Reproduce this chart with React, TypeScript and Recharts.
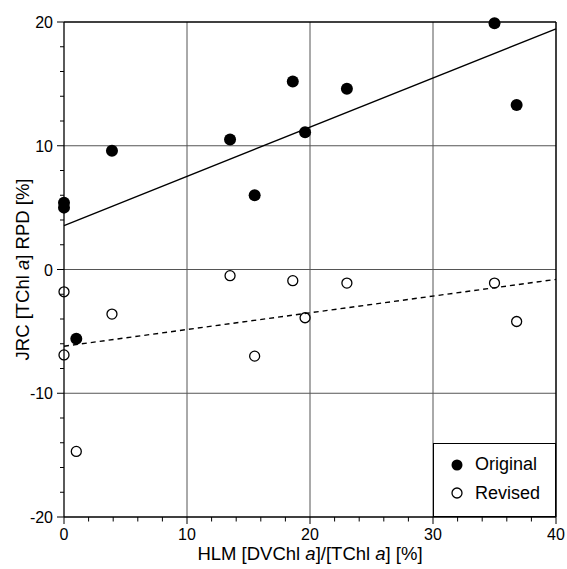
import React from "react";
import { ScatterChart, Scatter, XAxis, YAxis, CartesianGrid, ReferenceLine, Legend } from "recharts";

const xOriginal = [0, 0, 3.9, 13.5, 15.5, 18.6, 19.6, 23.0, 35.0, 36.8, 1.0];
const yOriginal = [5.4, 5.0, 9.6, 10.5, 6.0, 15.2, 11.1, 14.6, 19.9, 13.3, -5.6];

const xRevised = [0, 3.9, 0, 1.0, 13.5, 15.5, 18.6, 19.6, 23.0, 35.0, 36.8];
const yRevised = [-1.8, -3.6, -6.9, -14.7, -0.5, -7.0, -0.9, -3.9, -1.1, -1.1, -4.2];

// regression lines, end points
const fitX = [0, 40];
const fitOriginalY = [3.55, 19.45];
const fitRevisedY = [-6.2, -0.8];

const xTicks = [0, 2, 4, 6, 8, 10, 12, 14, 16, 18, 20, 22, 24, 26, 28, 30, 32, 34, 36, 38, 40];
const yTicks = [-20, -18, -16, -14, -12, -10, -8, -6, -4, -2, 0, 2, 4, 6, 8, 10, 12, 14, 16, 18, 20];
const gridX = [10, 20, 30];
const gridY = [-10, 0, 10];

const original = xOriginal.map((x, i) => ({ x, y: yOriginal[i] }));
const revised = xRevised.map((x, i) => ({ x, y: yRevised[i] }));
const fitOriginal = fitX.map((x, i) => ({ x, y: fitOriginalY[i] }));
const fitRevised = fitX.map((x, i) => ({ x, y: fitRevisedY[i] }));

const font = "'Liberation Sans', Arial, Helvetica, sans-serif";

const FilledDot = (p: any) => <circle cx={p.cx} cy={p.cy} r={6} fill="#000" />;
const OpenDot = (p: any) => <circle cx={p.cx} cy={p.cy} r={5} fill="none" stroke="#000" strokeWidth={1.3} />;
const NoDot = () => <g />;

const XTick = ({ x, y, payload }: any) => {
    const major = payload.value % 10 === 0;
    return (
        <g>
            <line x1={x} x2={x} y1={y} y2={y + (major ? 7 : 4.5)} stroke="#000" />
            {major && (
                <text x={x} y={y + 23} textAnchor="middle" fontSize={16} fontFamily={font} fill="#000">
                    {payload.value}
                </text>
            )}
        </g>
    );
};

const YTick = ({ x, y, payload }: any) => {
    const major = payload.value % 10 === 0;
    return (
        <g>
            <line x1={x} x2={x - (major ? 7 : 4)} y1={y} y2={y} stroke="#000" />
            {major && (
                <text x={x - 11} y={y + 6} textAnchor="end" fontSize={16} fontFamily={font} fill="#000">
                    {payload.value}
                </text>
            )}
        </g>
    );
};

const XTitle = (props: any) => {
    const vb = props.viewBox;
    return (
        <text x={vb.x + vb.width / 2} y={vb.y + 43} textAnchor="middle" fontSize={18.5} fontFamily={font} fill="#000">
            {"HLM [DVChl "}<tspan fontStyle="italic">a</tspan>{"]/[TChl "}<tspan fontStyle="italic">a</tspan>{"] [%]"}
        </text>
    );
};

const YTitle = (props: any) => {
    const vb = props.viewBox;
    const cx = vb.x + 29;
    const cy = vb.y + vb.height / 2;
    return (
        <text x={cx} y={cy} transform={`rotate(-90, ${cx}, ${cy})`} textAnchor="middle" fontSize={18.5} fontFamily={font} fill="#000">
            {"JRC [TChl "}<tspan fontStyle="italic">a</tspan>{"] RPD [%]"}
        </text>
    );
};

const LegendBox = () => (
    <svg width={123} height={74} style={{ display: "block" }}>
        <rect x={0.5} y={0.5} width={122} height={73} fill="#fff" stroke="#000" />
        <circle cx={24} cy={22} r={5.5} fill="#000" />
        <text x={42} y={27} fontSize={18} fontFamily={font} fill="#000">Original</text>
        <circle cx={24} cy={50} r={5} fill="none" stroke="#000" strokeWidth={1.3} />
        <text x={42} y={56} fontSize={18} fontFamily={font} fill="#000">Revised</text>
    </svg>
);

const App = () => {
    return (
        <div style={{ position: "absolute", left: 0, top: 0, background: "#fff" }}>
            <ScatterChart width={567} height={569} margin={{ top: 22, right: 11, left: 0, bottom: 0 }}>
                <CartesianGrid horizontal={false} vertical={false} />
                {gridX.map((v) => (
                    <ReferenceLine key={"gx" + v} x={v} stroke="#555" strokeWidth={1} />
                ))}
                {gridY.map((v) => (
                    <ReferenceLine key={"gy" + v} y={v} stroke="#555" strokeWidth={1} />
                ))}
                <ReferenceLine y={20} stroke="#000" strokeWidth={1.5} />
                <ReferenceLine x={40} stroke="#000" strokeWidth={1.5} />
                <XAxis
                    type="number"
                    dataKey="x"
                    domain={[0, 40]}
                    ticks={xTicks}
                    interval={0}
                    height={52}
                    tickSize={0}
                    tickMargin={0}
                    tickLine={false}
                    tick={XTick}
                    axisLine={{ stroke: "#000", strokeWidth: 1.3 }}
                    label={XTitle}
                />
                <YAxis
                    type="number"
                    dataKey="y"
                    domain={[-20, 20]}
                    ticks={yTicks}
                    interval={0}
                    width={64}
                    tickSize={0}
                    tickMargin={0}
                    tickLine={false}
                    tick={YTick}
                    axisLine={{ stroke: "#000", strokeWidth: 1.3 }}
                    label={YTitle}
                />
                <Legend
                    layout="vertical"
                    align="center"
                    verticalAlign="middle"
                    content={LegendBox}
                    wrapperStyle={{ left: 433, top: 443, width: 123, height: 74 }}
                />
                <Scatter name="fitOriginal" data={fitOriginal} line={{ stroke: "#000", strokeWidth: 1.4 }} shape={NoDot} legendType="none" isAnimationActive={false} />
                <Scatter name="fitRevised" data={fitRevised} line={{ stroke: "#000", strokeWidth: 1.4, strokeDasharray: "5 4" }} shape={NoDot} legendType="none" isAnimationActive={false} />
                <Scatter name="Original" data={original} shape={FilledDot} isAnimationActive={false} />
                <Scatter name="Revised" data={revised} shape={OpenDot} isAnimationActive={false} />
            </ScatterChart>
        </div>
    );
};

export default App;
